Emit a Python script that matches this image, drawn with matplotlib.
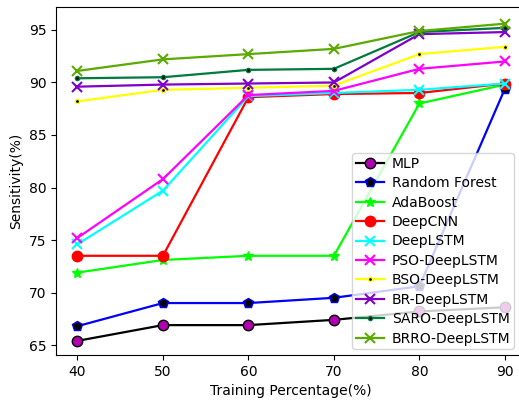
import numpy as np
import matplotlib.pyplot as plt

x = [40, 50, 60, 70, 80, 90]

mlp = [65.4, 66.9, 66.9, 67.4, 68.2, 68.6]
random_forest = [66.8, 69.0, 69.0, 69.5, 70.6, 89.4]
adaboost = [71.9, 73.1, 73.5, 73.5, 88.0, 89.8]
deepcnn = [73.5, 73.5, 88.6, 88.9, 89.0, 89.9]
deeplstm = [74.6, 79.7, 88.7, 89.0, 89.3, 89.9]
pso = [75.2, 80.8, 88.8, 89.2, 91.3, 92.0]
bso = [88.2, 89.3, 89.5, 89.7, 92.7, 93.4]
br = [89.6, 89.8, 89.9, 90.0, 94.6, 94.8]
saro = [90.4, 90.5, 91.2, 91.3, 94.8, 95.2]
brro = [91.1, 92.2, 92.7, 93.2, 94.9, 95.6]

fig, ax = plt.subplots(figsize=(5.19, 4.03), dpi=100)

ax.plot(x, mlp, color='black', marker='o', markerfacecolor='#b000b0',
        markeredgecolor='black', markersize=7.5, lw=1.6, label='MLP')
ax.plot(x, random_forest, color='blue', marker='p', markerfacecolor='black',
        markeredgecolor='blue', markersize=7.5, lw=1.6, label='Random Forest')
ax.plot(x, adaboost, color='lime', marker='*', markersize=7, lw=1.6, label='AdaBoost')
ax.plot(x, deepcnn, color='red', marker='o', markersize=7.5, lw=1.6, label='DeepCNN')
ax.plot(x, deeplstm, color='cyan', marker='x', markersize=7, mew=1.5, lw=1.6, label='DeepLSTM')
ax.plot(x, pso, color='magenta', marker='x', markersize=7, mew=1.5, lw=1.6, label='PSO-DeepLSTM')
ax.plot(x, bso, color='yellow', marker='.', markerfacecolor='black',
        markeredgecolor='yellow', markersize=6, lw=1.6, label='BSO-DeepLSTM')
ax.plot(x, br, color='#8000c8', marker='x', markersize=7, mew=1.5, lw=1.6, label='BR-DeepLSTM')
ax.plot(x, saro, color='#007a3d', marker='.', markerfacecolor='black',
        markeredgecolor='#007a3d', markersize=6, lw=1.6, label='SARO-DeepLSTM')
ax.plot(x, brro, color='#5aaa00', marker='x', markersize=7, mew=1.5, lw=1.6, label='BRRO-DeepLSTM')

ax.set_xlim(37.5, 92.5)
ax.set_ylim(64.05, 97.2)
ax.set_xticks(x)
ax.set_yticks([65, 70, 75, 80, 85, 90, 95])
ax.set_xlabel('Training Percentage(%)')
ax.set_ylabel('Sensitivity(%)')
ax.legend(loc='lower right', fontsize=10, framealpha=0.8, labelspacing=0.39,
          handlelength=2.0, handletextpad=0.6, borderpad=0.25, borderaxespad=0,
          bbox_to_anchor=(514 / 519, (403 - 349) / 403), bbox_transform=fig.transFigure)

fig.subplots_adjust(left=0.108, right=1.014, top=0.983, bottom=0.119)
fig.savefig('out.png', dpi=100)
